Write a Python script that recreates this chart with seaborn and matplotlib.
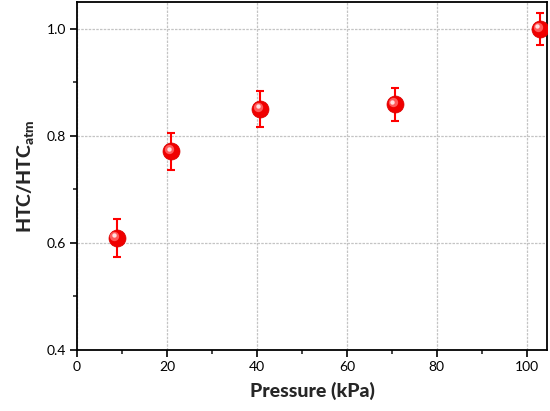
import matplotlib
matplotlib.use("Agg")
import matplotlib.pyplot as plt
import matplotlib.transforms as mtransforms
import numpy as np
import pandas as pd
import seaborn as sns

# Data
pressure = [8.8, 21.0, 40.8, 70.7, 102.9]
htc_ratio = [0.609, 0.771, 0.850, 0.859, 1.000]
htc_err = [0.035, 0.035, 0.033, 0.031, 0.030]

df = pd.DataFrame({"pressure": pressure, "ratio": htc_ratio, "err": htc_err})

sns.set_style("ticks")
plt.rcParams["font.family"] = ["Lato", "DejaVu Sans"]
plt.rcParams["mathtext.fontset"] = "custom"
plt.rcParams["mathtext.bf"] = "Lato:black"

fig = plt.figure(figsize=(5.5, 4.11), dpi=100)
ax = fig.add_axes([0.14, 0.1484, 0.8545, 0.8466])

# error bars
ax.errorbar(df["pressure"], df["ratio"], yerr=df["err"], fmt="none",
            ecolor="#ff0000", elinewidth=1.5, capsize=3, capthick=1.5, zorder=3)

# red "sphere" markers
sns.scatterplot(data=df, x="pressure", y="ratio", ax=ax, s=150, color="#f00000",
                edgecolor="#d80000", linewidth=0.5, zorder=4, legend=False)
shift = mtransforms.offset_copy(ax.transData, fig=fig, x=-1.5, y=1.5, units="points")
ax.scatter(df["pressure"], df["ratio"], s=45, color="#ff5a5a", linewidth=0,
           zorder=5, transform=shift)
shift2 = mtransforms.offset_copy(ax.transData, fig=fig, x=-2.0, y=2.0, units="points")
ax.scatter(df["pressure"], df["ratio"], s=10, color="#ffe0e0", linewidth=0,
           zorder=6, transform=shift2)

ax.set_xlim(0, 104.5)
ax.set_ylim(0.4, 1.05)
ax.set_xticks([0, 20, 40, 60, 80, 100])
ax.set_xticks([10, 30, 50, 70, 90], minor=True)
ax.set_yticks([0.4, 0.6, 0.8, 1.0])
ax.set_yticks([0.5, 0.7, 0.9], minor=True)
ax.set_yticklabels(["0.4", "0.6", "0.8", "1.0"])

ax.grid(True, which="major", color="#c4c4c4", linestyle=(0, (2, 1)), linewidth=0.9)
ax.set_axisbelow(True)

for side in ["left", "right", "top", "bottom"]:
    ax.spines[side].set_visible(True)
    ax.spines[side].set_linewidth(1.3)
    ax.spines[side].set_color("black")

ax.tick_params(axis="both", which="major", direction="out", length=5, width=1.2,
               labelsize=10, colors="black", pad=3)
ax.tick_params(axis="both", which="minor", direction="out", length=3, width=1.2)

ax.set_xlabel("Pressure (kPa)", fontsize=14, fontweight="black", labelpad=6)
ax.set_ylabel(r"HTC/HTC$_{\mathbf{atm}}$", fontsize=14, fontweight="black", labelpad=7)

fig.savefig("out.png", dpi=100)
